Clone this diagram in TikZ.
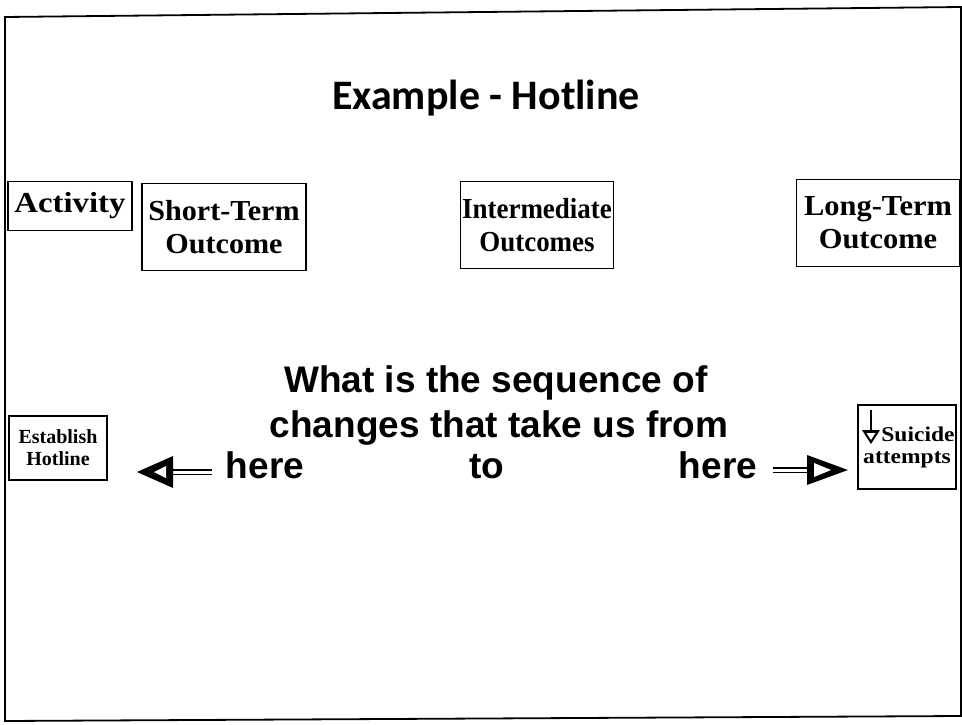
\documentclass[tikz,border=0pt]{standalone}
\usepackage{fontspec}
\setmainfont{Liberation Serif}
\newfontfamily\titlefont{Carlito}
\newfontfamily\armfont{Liberation Sans}
% heading faces, each set to fill its box
\newfontfamily\serifA[FakeStretch=1.13]{Liberation Serif}
\newfontfamily\serifB[FakeStretch=1.04]{Liberation Serif}
\newfontfamily\serifC[FakeStretch=0.93]{Liberation Serif}
\newfontfamily\serifD[FakeStretch=1.05]{Liberation Serif}
\newfontfamily\serifE[FakeStretch=1.12]{Liberation Serif}
\begin{document}
\begin{tikzpicture}[x=1pt,y=-1pt,
  labelbox/.style={draw,line width=1.1pt,inner sep=0pt,align=center},
  smallbox/.style={draw,line width=1.1pt,inner sep=0pt,align=center},
  bigtext/.style={font=\armfont\bfseries\fontsize{37}{40}\selectfont,inner sep=0pt,anchor=base},
  shaft/.style={double,double distance=3pt,line width=1.4pt}]
\useasboundingbox (0,0) rectangle (962,725);
% outer frame (page is slightly rotated)
\draw[line width=1.8pt] (5,17) -- (961,7) -- (961,716) -- (5,721) -- cycle;

% title
\node[font=\titlefont\bfseries\fontsize{42}{44}\selectfont,inner sep=0pt,anchor=base] (title) at (486,110) {Example - Hotline};

% column headings
\node[labelbox,minimum width=124pt,minimum height=49pt,font=\serifA\bfseries\fontsize{29}{33}\selectfont] (act) at (70,206) {Activity};
\node[labelbox,minimum width=164pt,minimum height=87pt,font=\serifB\bfseries\fontsize{29}{33}\selectfont] (st) at (224,227) {Short-Term\\Outcome};
\node[labelbox,minimum width=153pt,minimum height=87pt,font=\serifC\bfseries\fontsize{29}{33}\selectfont] (im) at (537,225) {Intermediate\\Outcomes};
\node[labelbox,minimum width=163pt,minimum height=87pt,font=\serifD\bfseries\fontsize{29}{33}\selectfont] (lt) at (878,223) {Long-Term\\Outcome};

% start and end boxes
\node[smallbox,minimum width=98pt,minimum height=64pt,font=\bfseries\fontsize{20}{22}\selectfont] (est) at (58,448) {Establish\\Hotline};
\node[smallbox,minimum width=98pt,minimum height=84pt,font=\serifE\bfseries\fontsize{21}{22}\selectfont] (sui) at (907,447) {\hspace*{22pt}Suicide\\attempts};

% central question
\node[bigtext] (q1) at (496,392) {What is the sequence of};
\node[bigtext] (q2) at (499,437) {changes that take us from};
\node[bigtext] (hl) at (265,478) {here};
\node[bigtext] (to) at (487,478) {to};
\node[bigtext] (hr) at (718,478) {here};

% arrow towards the start box
\coordinate (la) at (212,472);
\coordinate (lb) at (170,472);
\draw[shaft] (la) -- (lb);
\fill (137,472) -- (173,456) -- (173,488) -- cycle;
\fill[white] (154,472) -- (166,466) -- (166,478) -- cycle;

% arrow towards the end box
\coordinate (ra) at (773,470);
\coordinate (rb) at (810,470);
\draw[shaft] (ra) -- (rb);
\fill (848,470) -- (807,455) -- (807,485) -- cycle;
\fill[white] (831,470) -- (814,463) -- (814,477) -- cycle;

% decrease marker in the end box
\coordinate (da) at (871,410);
\coordinate (db) at (871,432);
\draw[line width=1.3pt] (da) -- (db);
\fill (862,430) -- (880,430) -- (871,444) -- cycle;
\fill[white] (866.5,433) -- (875.5,433) -- (871,440) -- cycle;
\end{tikzpicture}
\end{document}
